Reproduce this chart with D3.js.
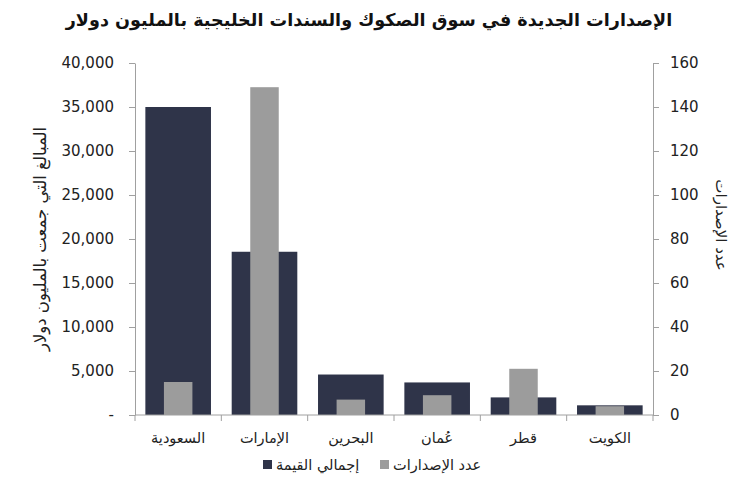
<!DOCTYPE html>
<html>
<head>
<meta charset="utf-8">
<script src="https://cdn.jsdelivr.net/npm/d3@7"></script>
<style>
  body { margin: 0; background: #fff; }
  text { font-family: "DejaVu Sans", sans-serif; }
</style>
</head>
<body>
<script>
// data
const countries = ['السعودية', 'الإمارات', 'البحرين', 'عُمان', 'قطر', 'الكويت'];
const totalValue = [35000, 18550, 4600, 3700, 2000, 1100];   // إجمالي القيمة (left axis)
const issueCount = [15, 149, 7, 9, 21, 4];                    // عدد الإصدارات (right axis)
const leftTicks = [0, 5000, 10000, 15000, 20000, 25000, 30000, 35000, 40000];
const rightTicks = [0, 20, 40, 60, 80, 100, 120, 140, 160];

const width = 739, height = 500;
const margin = {top: 63, right: 86, bottom: 85, left: 135};
const dark = '#2f3449', grey = '#9c9c9c', axisColor = '#a0a0a0';

const svg = d3.select('body').append('svg')
  .attr('width', width).attr('height', height);

const x = d3.scaleBand()
  .domain(d3.range(countries.length))
  .range([margin.left, width - margin.right]);

const yL = d3.scaleLinear().domain([0, 40000]).range([height - margin.bottom, margin.top]);
const yR = d3.scaleLinear().domain([0, 160]).range([height - margin.bottom, margin.top]);

const darkW = x.bandwidth() * 0.76;
const greyW = x.bandwidth() * 0.33;

// dark bars
svg.append('g').selectAll('rect')
  .data(totalValue)
  .join('rect')
    .attr('fill', dark)
    .attr('x', (d, i) => x(i) + (x.bandwidth() - darkW) / 2)
    .attr('y', d => yL(d))
    .attr('width', darkW)
    .attr('height', d => yL(0) - yL(d));

// grey bars on top
svg.append('g').selectAll('rect')
  .data(issueCount)
  .join('rect')
    .attr('fill', grey)
    .attr('x', (d, i) => x(i) + (x.bandwidth() - greyW) / 2)
    .attr('y', d => yR(d))
    .attr('width', greyW)
    .attr('height', d => yR(0) - yR(d));

const styleAxis = g => {
  g.select('.domain').attr('stroke', axisColor);
  g.selectAll('.tick line').attr('stroke', axisColor);
  g.selectAll('.tick text').attr('fill', '#222').style('font-size', '15px');
};

// left axis
svg.append('g')
  .attr('transform', `translate(${margin.left},0)`)
  .call(d3.axisLeft(yL).tickValues(leftTicks).tickSize(6).tickSizeOuter(0).tickPadding(15)
    .tickFormat(d => d === 0 ? '-' : d3.format(',')(d)))
  .call(styleAxis);

// right axis
svg.append('g')
  .attr('transform', `translate(${width - margin.right},0)`)
  .call(d3.axisRight(yR).tickValues(rightTicks).tickSize(6).tickSizeOuter(0).tickPadding(11))
  .call(styleAxis);

// bottom axis: ticks at category boundaries
const xAxis = svg.append('g')
  .attr('transform', `translate(0,${height - margin.bottom})`);
xAxis.append('line')
  .attr('x1', margin.left).attr('x2', width - margin.right)
  .attr('stroke', axisColor);
xAxis.selectAll('line.sep')
  .data(d3.range(countries.length + 1))
  .join('line')
    .attr('class', 'sep')
    .attr('x1', i => i < countries.length ? x(i) : x(i - 1) + x.bandwidth())
    .attr('x2', i => i < countries.length ? x(i) : x(i - 1) + x.bandwidth())
    .attr('y1', 0).attr('y2', 6)
    .attr('stroke', axisColor);
xAxis.selectAll('text')
  .data(countries)
  .join('text')
    .attr('x', (d, i) => x(i) + x.bandwidth() / 2)
    .attr('y', 28)
    .attr('text-anchor', 'middle')
    .attr('fill', '#222')
    .style('font-size', '14.5px')
    .text(d => d);

// title
svg.append('text')
  .attr('x', 369).attr('y', 26)
  .attr('text-anchor', 'middle')
  .style('font-size', '17.6px')
  .style('font-weight', 'bold')
  .attr('fill', '#111')
  .text('الإصدارات الجديدة في سوق الصكوك والسندات الخليجية بالمليون دولار');

// axis titles
svg.append('text')
  .attr('transform', `translate(40,${(margin.top + height - margin.bottom) / 2}) rotate(-90)`)
  .attr('text-anchor', 'middle')
  .attr('dy', '0.35em')
  .style('font-size', '16.5px')
  .attr('fill', '#222')
  .text('المبالغ التي جمعت بالمليون دولار');

svg.append('text')
  .attr('transform', `translate(721,225) rotate(90)`)
  .attr('text-anchor', 'middle')
  .attr('dy', '0.35em')
  .style('font-size', '15px')
  .attr('fill', '#222')
  .text('عدد الإصدارات');

// legend
const legend = [
  {label: 'إجمالي القيمة', color: dark, x: 263},
  {label: 'عدد الإصدارات', color: grey, x: 380}
];
const lg = svg.append('g').selectAll('g')
  .data(legend)
  .join('g')
    .attr('transform', d => `translate(${d.x},465)`);
lg.append('rect')
  .attr('x', 0).attr('y', -5).attr('width', 9).attr('height', 9)
  .attr('fill', d => d.color);
lg.append('text')
  .attr('x', 13).attr('dy', '0.35em')
  .attr('text-anchor', 'start')
  .style('font-size', '14.5px')
  .attr('fill', '#222')
  .text(d => d.label);
</script>
</body>
</html>
